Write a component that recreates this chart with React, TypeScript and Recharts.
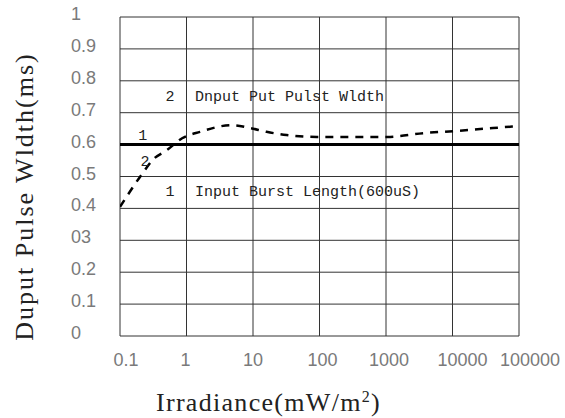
import { LineChart, Line, XAxis, YAxis, CartesianGrid, ReferenceDot } from 'recharts'

// dashed curve: output pulse width vs irradiance
const pulseX = [0.1, 0.22, 0.31, 0.51, 0.86, 1.6, 4.8, 9, 16, 32, 91, 515, 1040, 3650, 12000, 40600, 100000]
const pulseY = [0.405, 0.511, 0.552, 0.583, 0.62, 0.64, 0.661, 0.652, 0.64, 0.63, 0.624, 0.624, 0.624, 0.636, 0.643, 0.652, 0.658]

// solid line: input burst length
const burstX = [0.1, 100000]
const burstY = [0.6, 0.6]

const xTicks = [0.1, 1, 10, 100, 1000, 10000, 100000]
const xLabels = ['0.1', '1', '10', '100', '1000', '10000', '100000']
const yTicks = [0, 0.1, 0.2, 0.3, 0.4, 0.5, 0.6, 0.7, 0.8, 0.9, 1]
const yLabels = ['0', '0.1', '0.2', '03', '0.4', '0.5', '0.6', '0.7', '0.8', '0.9', '1']

const noteX = [0.565, 1.34, 0.565, 1.34, 0.22, 0.237]
const noteY = [0.749, 0.749, 0.451, 0.451, 0.624, 0.545]
const noteText = ['2', 'Dnput Put Pulst Wldth', '1', 'Input Burst Length(600uS)', '1', '2']

const pulseData = pulseX.map((x, i) => ({ x, y: pulseY[i] }))
const burstData = burstX.map((x, i) => ({ x, y: burstY[i] }))

const tickFont = { fontFamily: 'Liberation Sans', fontSize: 18, fill: '#7a7a7a' }
const xTickShift = [6, -1, 0, 3, 3, 10, 11]
const noteFont = 'Liberation Mono'

function XTick(props: any) {
  const { x, y, index } = props
  return (
    <text x={x + xTickShift[index]} y={y + 1} dy="0.71em" textAnchor="middle" {...tickFont}>
      {xLabels[index]}
    </text>
  )
}

function YTick(props: any) {
  const { x, y, index } = props
  return (
    <text x={x - 49} y={y - 3} dominantBaseline="central" textAnchor="start" {...tickFont}>
      {yLabels[index]}
    </text>
  )
}

function XTitle(props: any) {
  const vb = props.viewBox
  return (
    <text
      x={vb.x + vb.width / 2 - 51}
      y={vb.y + 75}
      textAnchor="middle"
      fontFamily="Liberation Serif"
      fontSize={26}
      letterSpacing={1.3}
      fill="#222"
    >
      Irradiance(mW/m<tspan fontSize={16} dy={-9}>2</tspan><tspan dy={9}>)</tspan>
    </text>
  )
}

function YTitle(props: any) {
  const vb = props.viewBox
  const cx = vb.x + 33
  const cy = vb.y + vb.height / 2 + 20
  return (
    <text
      x={cx}
      y={cy}
      transform={`rotate(-90 ${cx} ${cy})`}
      textAnchor="middle"
      fontFamily="Liberation Serif"
      fontSize={26}
      letterSpacing={2}
      fill="#222"
    >
      Duput Pulse Wldth(ms)
    </text>
  )
}

const noteLabel = (text: string) => (props: any) => {
  const vb = props.viewBox
  return (
    <text
      x={vb.x}
      y={vb.y}
      dominantBaseline="central"
      textAnchor={text.length > 1 ? 'start' : 'middle'}
      fontFamily={noteFont}
      fontSize={15}
      fill="#222"
    >
      {text}
    </text>
  )
}

export default function App() {
  return (
    <div style={{ position: 'absolute', left: 0, top: 0, background: '#fff' }}>
      <LineChart width={565} height={418} margin={{ top: 17, right: 46, bottom: 0, left: 0 }}>
        <CartesianGrid stroke="#333" strokeWidth={1} />
        <XAxis
          dataKey="x"
          type="number"
          scale="log"
          domain={[0.1, 100000]}
          ticks={xTicks}
          allowDataOverflow
          axisLine={false}
          tickLine={false}
          tickSize={0}
          tickMargin={16}
          height={82}
          tick={<XTick />}
          label={<XTitle />}
        />
        <YAxis
          type="number"
          domain={[0, 1]}
          ticks={yTicks}
          axisLine={false}
          tickLine={false}
          tickSize={0}
          tickMargin={0}
          width={120}
          tick={<YTick />}
          label={<YTitle />}
        />
        <Line
          data={burstData}
          dataKey="y"
          stroke="#000"
          strokeWidth={3}
          dot={false}
          activeDot={false}
          isAnimationActive={false}
        />
        <Line
          data={pulseData}
          dataKey="y"
          type="monotone"
          stroke="#000"
          strokeWidth={2.5}
          strokeDasharray="8 7"
          dot={false}
          activeDot={false}
          isAnimationActive={false}
        />
        {noteText.map((t, i) => (
          <ReferenceDot
            key={i}
            x={noteX[i]}
            y={noteY[i]}
            r={0}
            fill="none"
            stroke="none"
            label={noteLabel(t)}
          />
        ))}
      </LineChart>
    </div>
  )
}
